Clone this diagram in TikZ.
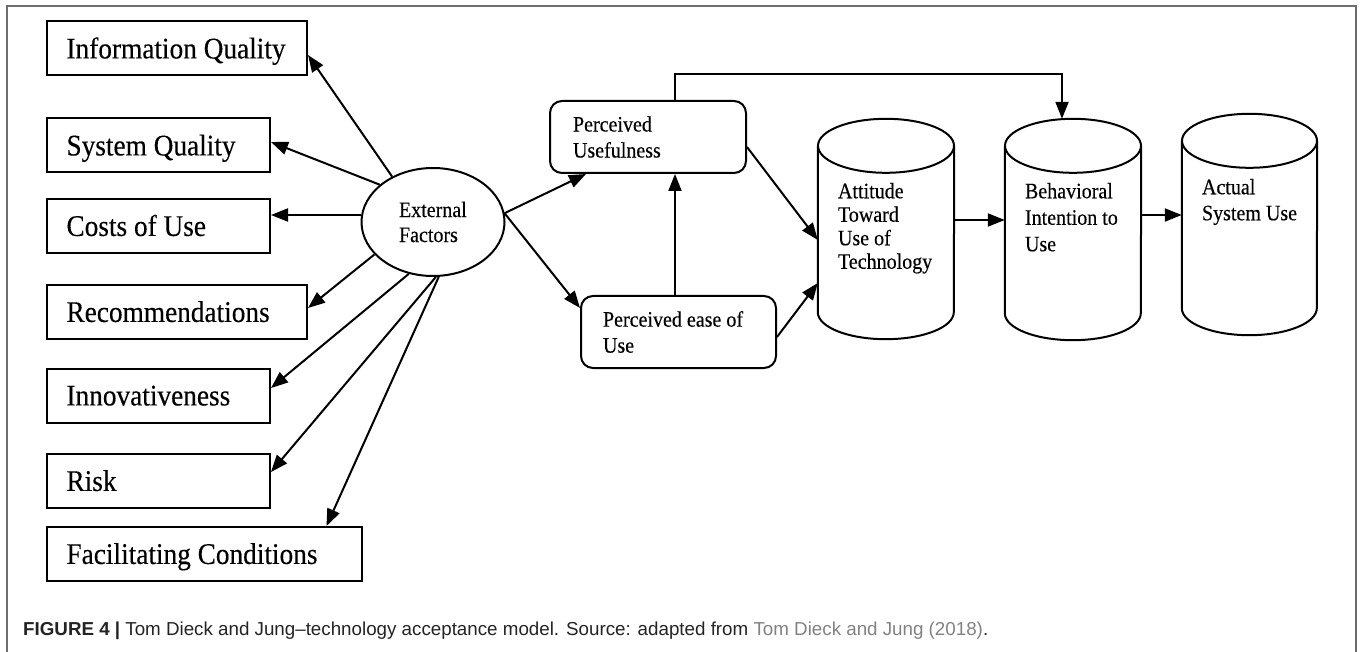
\documentclass[tikz,border=0pt]{standalone}
\usepackage{fontspec}
\setmainfont[FakeStretch=0.91,FakeBold=0.3]{Liberation Serif}
\setsansfont{Liberation Sans}
\usepackage{graphicx}
\usetikzlibrary{arrows.meta,shapes.geometric,calc}
\newcommand\tamBig{\fontsize{30}{35}\selectfont}
\newcommand\tamMid{\fontsize{22}{26}\selectfont}
\newcommand\tamSp{\spaceskip=0pt\xspaceskip=0pt }
\newcommand\tamCyl[2]{%
  \draw[lw] (#1.north west) -- (#1.south west)
     arc[start angle=180, end angle=0, x radius=#2, y radius=27] -- (#1.north east);
  \draw[lw] (#1.north) ellipse[x radius=#2, y radius=27];}
\definecolor{framegray}{RGB}{110,110,110}
\definecolor{linkgray}{RGB}{130,130,130}
\definecolor{captext}{RGB}{35,35,35}
\begin{document}
\begin{tikzpicture}[x=1pt,y=-1pt,
  lw/.style={line width=2pt},
  box/.style={draw, lw, inner xsep=19.5pt, inner ysep=0pt, minimum height=54pt,
    align=left, font=\tamBig, text height=19.9pt, text depth=0pt},
  rbox/.style={draw, lw, rounded corners=12pt, inner ysep=0pt, minimum height=72pt,
    align=left, font=\tamMid},
  cyltext/.style={anchor=north west, inner sep=0pt, align=left, text width=112pt},
  body/.style={inner sep=0pt, draw=none},
  arr/.style={lw, -{Triangle[length=17pt,width=13pt]}},
]
\useasboundingbox (0,0) rectangle (1360,652);
\draw[framegray, line width=2pt] (7,653) -- (7,6) -- (1356,6) -- (1356,653);

% left boxes
\node[box, text width=221pt] (iq)   at (177,48.5)   {\tamSp Information Quality};
\node[box, text width=184pt] (sq)   at (158.5,145.5) {\tamSp System Quality};
\node[box, text width=184pt] (cu)   at (158.5,226)  {\tamSp Costs of Use};
\node[box, text width=221pt] (rec)  at (177,312)    {Recommendations};
\node[box, text width=184pt] (inn)  at (158.5,395.5) {Innovativeness};
\node[box, text width=184pt] (risk) at (158.5,481)  {Risk};
\node[box, text width=276pt] (fc)   at (204.5,554)  {\tamSp Facilitating Conditions};

% external factors
\node[draw, lw, ellipse, minimum width=143pt, minimum height=108pt, inner sep=0pt,
  align=left, text width=68pt, font=\fontsize{22}{25}\selectfont] (ef) at (433,222) {External\\Factors};

% rounded boxes
\node[rbox, text width=150pt, inner xsep=23pt] (pu) at (648,137) {Perceived\\Usefulness};
\node[rbox, text width=151pt, inner xsep=22pt] (peou) at (678.5,332) {\tamSp Perceived ease of\\Use};

% cylinders
\node[body, minimum width=136pt, minimum height=166pt] (att) at (886,229) {};
\node[body, minimum width=136pt, minimum height=167pt] (bi)  at (1073,229.5) {};
\node[body, minimum width=135pt, minimum height=167pt] (asu) at (1249.5,224.5) {};
\tamCyl{att}{68}
\tamCyl{bi}{68}
\tamCyl{asu}{67.5}
\node[cyltext, font=\fontsize{22}{23.5}\selectfont] (atttxt) at ([xshift=20pt,yshift=-37pt]att.north west) {\tamSp Attitude\\Toward\\Use of\\Technology};
\node[cyltext, font=\fontsize{22}{26.5}\selectfont] (bitxt) at ([xshift=20pt,yshift=-37pt]bi.north west) {\tamSp Behavioral\\Intention to\\Use};
\node[cyltext, font=\fontsize{22}{26}\selectfont] (asutxt) at ([xshift=20pt,yshift=-38pt]asu.north west) {\tamSp Actual\\System Use};

% arrows to left boxes
\draw[arr] (ef.132) -- ([yshift=-6.5pt]iq.east);
\draw[arr] (ef.145) -- ([yshift=3.5pt]sq.east);
\draw[arr] ([yshift=7pt]ef.west) -- ([yshift=7pt]ef.west -| cu.east);
\draw[arr] (ef.209) -- ([yshift=4pt]rec.east);
\draw[arr] (ef.245) -- ([yshift=7.5pt]inn.east);
\draw[arr] (ef.273) -- ([yshift=9pt]risk.east);
\draw[arr] (ef.276) -- ([xshift=122pt]fc.north);

% right side arrows
\draw[arr] (ef.7) -- ([xshift=37pt]pu.south west);
\draw[arr] (ef.7) -- ([yshift=24pt]peou.west);
\draw[arr] ([xshift=-3.5pt]peou.north) -- ([xshift=-3.5pt]peou.north |- pu.south);
\draw[arr] ([yshift=-10pt]pu.east) -- ([yshift=-11pt]att.west);
\draw[arr] ([yshift=-5pt]peou.east) -- ([yshift=-54pt]att.west);
\draw[arr] ([yshift=9pt]att.east) -- ([yshift=9pt]att.east -| bi.west);
\draw[arr] ([yshift=14.5pt]bi.east) -- ([yshift=14.5pt]bi.east -| asu.west);
\draw[arr] ([xshift=27pt]pu.north) -- ++(0,-26) -| ([xshift=-11pt,yshift=27pt]bi.north);

% caption
\node[anchor=base west, inner sep=0pt, font=\sffamily\fontsize{18}{22}\selectfont, text=captext] (cap) at (23,635)
  {\resizebox{965pt}{!}{\textbf{FIGURE 4 |} Tom Dieck and Jung–technology acceptance model. Source: adapted from \textcolor{linkgray}{Tom Dieck and Jung (2018)}.}};
\end{tikzpicture}
\end{document}
